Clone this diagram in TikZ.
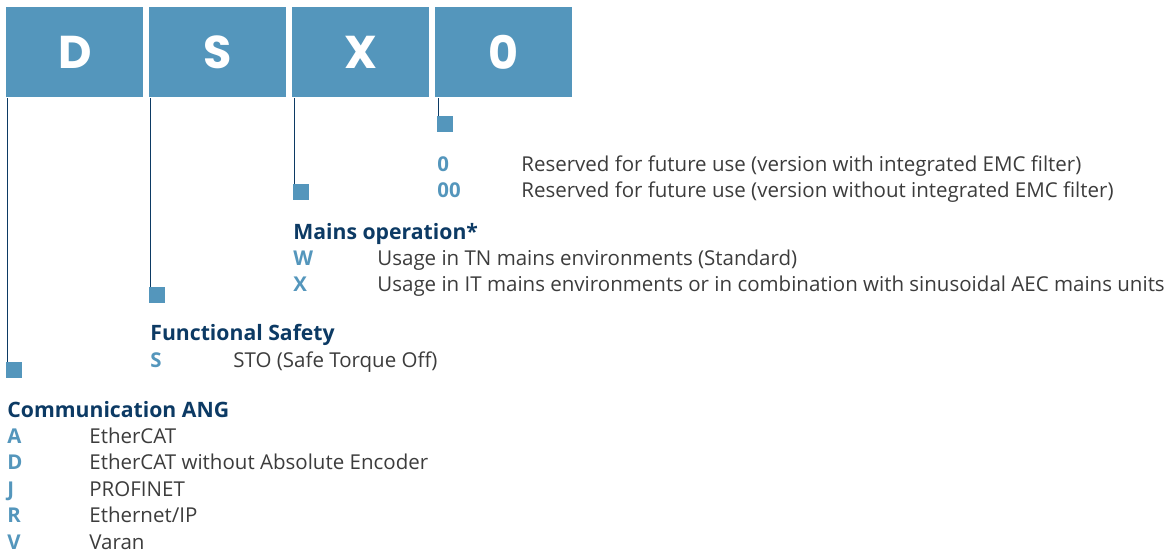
\documentclass[tikz,border=0pt]{standalone}
\usepackage{fontspec}
\setmainfont{Open Sans}
\newfontfamily\codefont{Poppins}
\definecolor{codeblue}{RGB}{84,150,188}
\definecolor{headblue}{RGB}{12,58,100}
\definecolor{textgray}{RGB}{60,60,60}
\usetikzlibrary{positioning}

\begin{document}
\begin{tikzpicture}[x=0.5pt,y=-0.5pt,
    digit/.style={fill=codeblue, anchor=north west, minimum width=68.5pt, minimum height=45pt, inner sep=0pt, text=white, font=\codefont\bfseries\fontsize{23}{23}\selectfont},
    marker/.style={fill=codeblue, anchor=north west, minimum size=8pt, inner sep=0pt},
    lead/.style={draw=headblue, line width=0.6pt},
    head/.style={anchor=base west, inner sep=0pt, text=headblue, font=\bfseries\fontsize{10.6}{12}\selectfont},
    key/.style={anchor=base west, inner sep=0pt, text=codeblue, font=\bfseries\fontsize{10.2}{12}\selectfont},
    desc/.style={anchor=base west, inner sep=0pt, text=textgray, font=\fontsize{10.25}{12}\selectfont}]
    \useasboundingbox (0,0) rectangle (1170,557);

    % type code boxes
    \node[digit] (bD) at (6,7) {D};
    \node[digit] (bS) at (149,7) {S};
    \node[digit] (bX) at (292,7) {X};
    \node[digit] (b0) at (435,7) {0};

    % markers and leads
    \node[marker] (mD) at (6,362) {};
    \node[marker] (mS) at (149,287) {};
    \node[marker] (mX) at (293,184) {};
    \node[marker] (m0) at (437,116) {};
    \foreach \n in {D,S,X,0}
        \draw[lead] ([xshift=0.6pt]m\n.north west) -- ([xshift=0.6pt]m\n.north west |- b\n.south);

    % version
    \node[key] (k0) at (437,171) {0};
    \node[desc] at ([xshift=42pt]k0.base west) {Reserved for future use (version with integrated EMC filter)};
    \node[key] (k00) at (437,197) {00};
    \node[desc] at ([xshift=42pt]k00.base west) {Reserved for future use (version without integrated EMC filter)};

    % mains operation
    \node[head] (hX) at (293,239) {Mains operation*};
    \node[key] (kW) at (293,265) {W};
    \node[desc] at ([xshift=42pt]kW.base west) {Usage in TN mains environments (Standard)};
    \node[key] (kX) at (293,291) {X};
    \node[desc] at ([xshift=42pt]kX.base west) {Usage in IT mains environments or in combination with sinusoidal AEC mains units};

    % functional safety
    \node[head] (hS) at (150,340) {Functional Safety};
    \node[key] (kS) at (150,367) {S};
    \node[desc] at ([xshift=41.5pt]kS.base west) {STO (Safe Torque Off)};

    % communication
    \node[head] (hD) at (7,417) {Communication ANG};
    \foreach \k/\t [count=\i from 0] in {A/EtherCAT, D/EtherCAT without Absolute Encoder, J/PROFINET, R/{Ethernet/IP}, V/Varan} {
        \node[key] (com\k) at (7,{443+26.5*\i}) {\k};
        \node[desc] at ([xshift=41pt]com\k.base west) {\t};
    }
\end{tikzpicture}
\end{document}
